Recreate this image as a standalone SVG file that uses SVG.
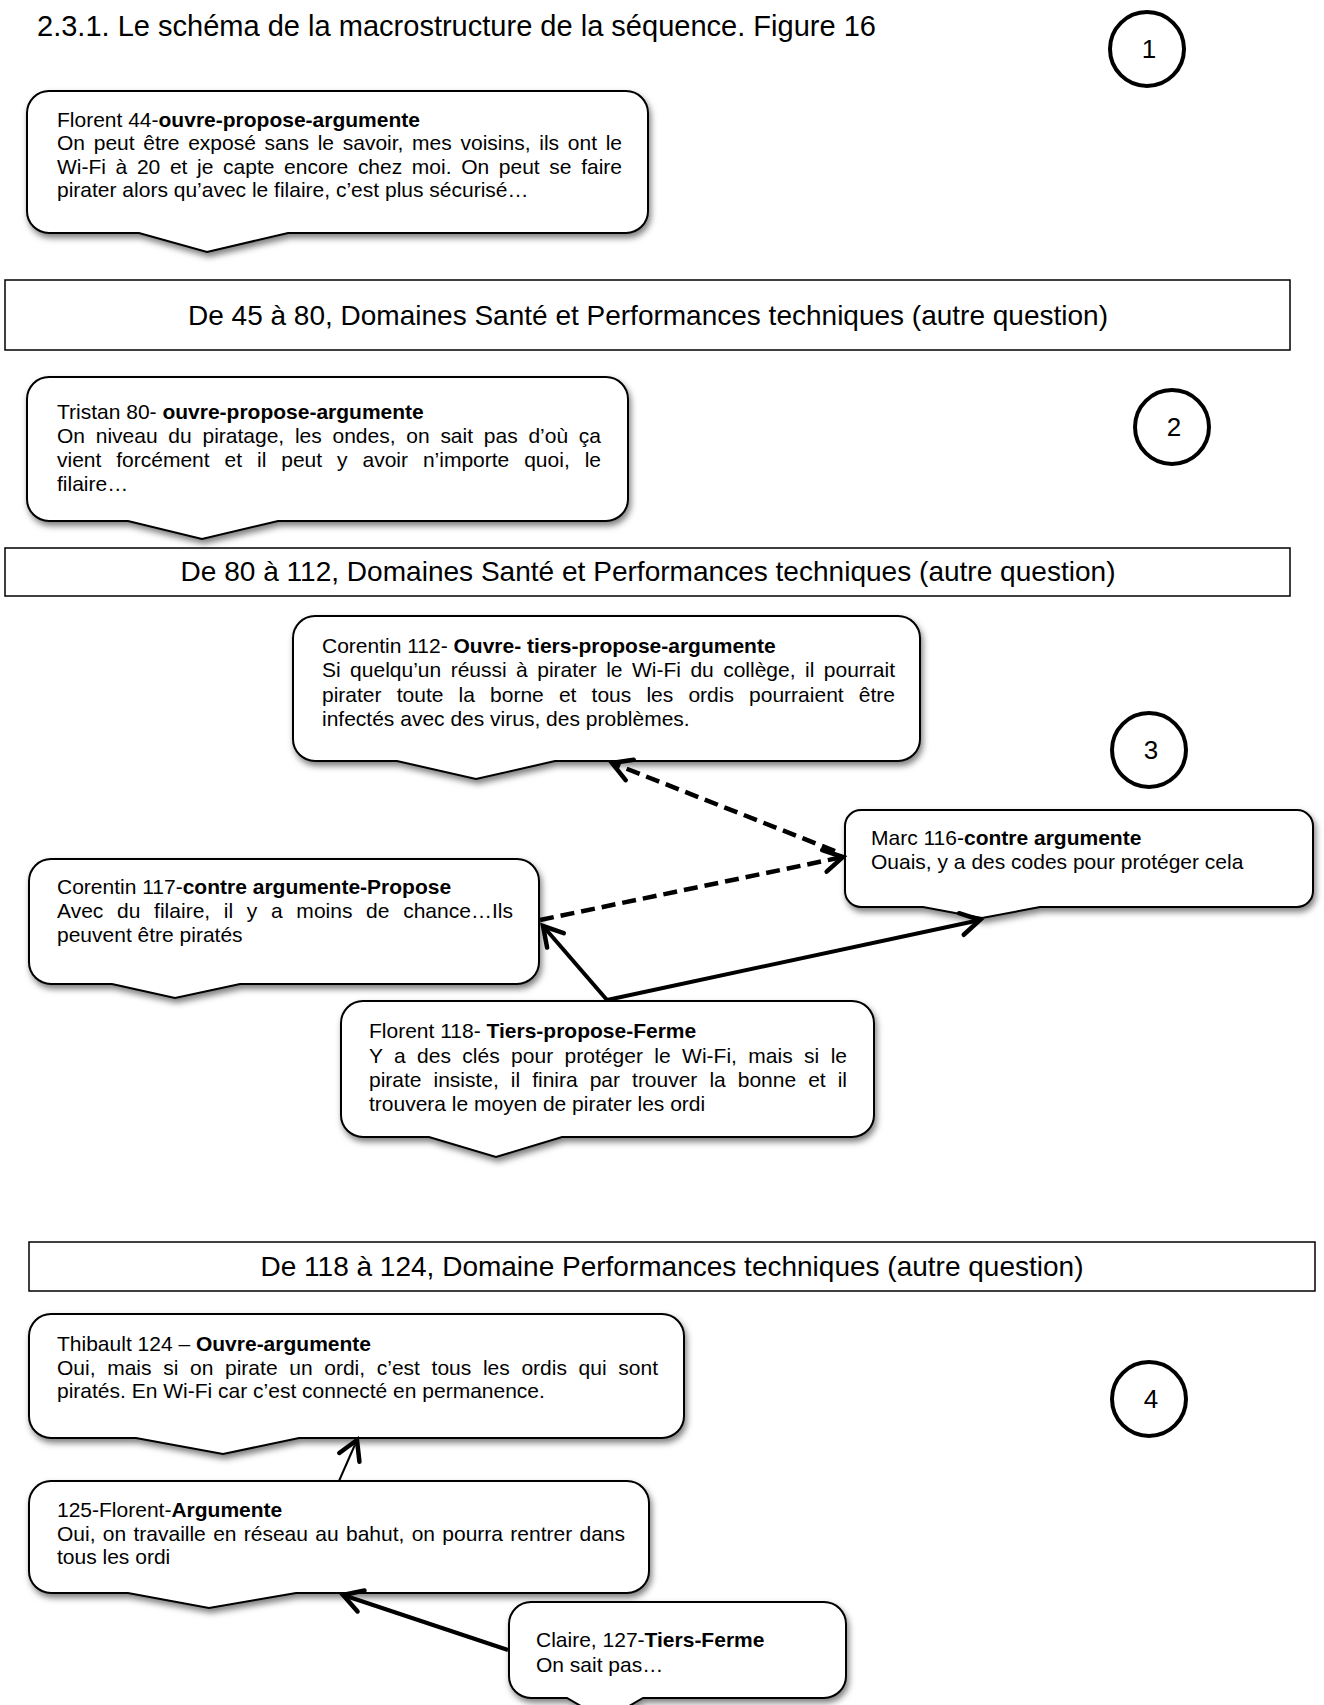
<svg xmlns="http://www.w3.org/2000/svg" width="1324" height="1705" viewBox="0 0 1324 1705">
<style>
.t{font-family:"Liberation Sans",Arial,sans-serif;font-size:21px;fill:#000}
.b{font-weight:bold}
.title{font-family:"Liberation Sans",Arial,sans-serif;font-size:29px;fill:#000}
.band{font-family:"Liberation Sans",Arial,sans-serif;font-size:28px;fill:#000;text-anchor:middle}
.num{font-family:"Liberation Sans",Arial,sans-serif;font-size:26px;fill:#000;text-anchor:middle}
.call{fill:#fff;stroke:#000;stroke-width:2;filter:url(#sh)}
.bandr{fill:#fff;stroke:#000;stroke-width:1.5}
.circ{fill:#fff;stroke:#000;stroke-width:4}
.solid{fill:none;stroke:#000;stroke-width:4;marker-end:url(#head)}
.dash{fill:none;stroke:#000;stroke-width:4.5;stroke-dasharray:14 7;marker-end:url(#head)}
.thin{fill:none;stroke:#000;stroke-width:2;marker-end:url(#head)}
</style>
<defs>
<filter id="sh" x="-5%" y="-10%" width="115%" height="135%">
<feDropShadow dx="2" dy="4" stdDeviation="3" flood-color="#000" flood-opacity="0.5"/>
</filter>
<marker id="head" markerUnits="userSpaceOnUse" markerWidth="30" markerHeight="30" viewBox="-22 -15 30 30" refX="0" refY="0" orient="auto" overflow="visible">
<path d="M-19,-11 L0,0 L-19,11" fill="none" stroke="#000" stroke-width="4.5" stroke-linejoin="miter" stroke-linecap="round"/>
</marker>
</defs>
<rect width="1324" height="1705" fill="#fff"/>
<text id="title" class="title" x="37" y="36" textLength="839" lengthAdjust="spacingAndGlyphs">2.3.1. Le schéma de la macrostructure de la séquence. Figure 16</text>

<g id="circle1"><circle class="circ" cx="1147" cy="49" r="37"/><text class="num" x="1149" y="58">1</text></g>
<g id="circle2"><circle class="circ" cx="1172" cy="427" r="37"/><text class="num" x="1174" y="436">2</text></g>
<g id="circle3"><circle class="circ" cx="1149" cy="750" r="37"/><text class="num" x="1151" y="759">3</text></g>
<g id="circle4"><circle class="circ" cx="1149" cy="1399" r="37"/><text class="num" x="1151" y="1408">4</text></g>

<g id="band1"><rect class="bandr" x="5" y="280" width="1285" height="70"/><text class="band" x="648" y="325" textLength="920" lengthAdjust="spacingAndGlyphs">De 45 à 80, Domaines Santé et Performances techniques (autre question)</text></g>
<g id="band2"><rect class="bandr" x="5" y="548" width="1285" height="48"/><text class="band" x="648" y="581" textLength="935" lengthAdjust="spacingAndGlyphs">De 80 à 112, Domaines Santé et Performances techniques (autre question)</text></g>
<g id="band3"><rect class="bandr" x="29" y="1242" width="1286" height="49"/><text class="band" x="672" y="1276" textLength="823" lengthAdjust="spacingAndGlyphs">De 118 à 124, Domaine Performances techniques (autre question)</text></g>

<g id="florent44">
<path class="call" d="M49,91 H626 A22 22 0 0 1 648,113 V211 A22 22 0 0 1 626,233 H288 L207,252 L139,233 H49 A22 22 0 0 1 27,211 V113 A22 22 0 0 1 49,91 Z"/>
<text class="t" x="57" y="127">Florent 44-<tspan class="b">ouvre-propose-argumente</tspan></text>
<text class="t" x="57" y="150" word-spacing="2.8" textLength="565">On peut être exposé sans le savoir, mes voisins, ils ont le</text>
<text class="t" x="57" y="174" word-spacing="3.8" textLength="565">Wi-Fi à 20 et je capte encore chez moi. On peut se faire</text>
<text class="t" x="57" y="197">pirater alors qu’avec le filaire, c’est plus sécurisé…</text>
</g>

<g id="tristan80">
<path class="call" d="M49,377 H606 A22 22 0 0 1 628,399 V499 A22 22 0 0 1 606,521 H278 L202,539 L128,521 H49 A22 22 0 0 1 27,499 V399 A22 22 0 0 1 49,377 Z"/>
<text class="t" x="57" y="419">Tristan 80- <tspan class="b">ouvre-propose-argumente</tspan></text>
<text class="t" x="57" y="443" word-spacing="4.9" textLength="544">On niveau du piratage, les ondes, on sait pas d’où ça</text>
<text class="t" x="57" y="467" word-spacing="9.1" textLength="544">vient forcément et il peut y avoir n’importe quoi, le</text>
<text class="t" x="57" y="491">filaire…</text>
</g>

<g id="corentin112">
<path class="call" d="M315,616 H898 A22 22 0 0 1 920,638 V739 A22 22 0 0 1 898,761 H555 L476,779 L397,761 H315 A22 22 0 0 1 293,739 V638 A22 22 0 0 1 315,616 Z"/>
<text class="t" x="322" y="653">Corentin 112- <tspan class="b">Ouvre- tiers-propose-argumente</tspan></text>
<text class="t" x="322" y="677" word-spacing="3.6" textLength="573">Si quelqu’un réussi à pirater le Wi-Fi du collège, il pourrait</text>
<text class="t" x="322" y="702" word-spacing="9.3" textLength="573">pirater toute la borne et tous les ordis pourraient être</text>
<text class="t" x="322" y="726">infectés avec des virus, des problèmes.</text>
</g>

<g id="marc116">
<path class="call" d="M861,810 H1297 A16 16 0 0 1 1313,826 V891 A16 16 0 0 1 1297,907 H1040 L982,918 L923,907 H861 A16 16 0 0 1 845,891 V826 A16 16 0 0 1 861,810 Z"/>
<text class="t" x="871" y="845">Marc 116-<tspan class="b">contre argumente</tspan></text>
<text class="t" x="871" y="869">Ouais, y a des codes pour protéger cela</text>
</g>

<g id="corentin117">
<path class="call" d="M51,859 H517 A22 22 0 0 1 539,881 V962 A22 22 0 0 1 517,984 H240 L175,998 L112,984 H51 A22 22 0 0 1 29,962 V881 A22 22 0 0 1 51,859 Z"/>
<text class="t" x="57" y="894">Corentin 117-<tspan class="b">contre argumente-Propose</tspan></text>
<text class="t" x="57" y="918" word-spacing="7.8" textLength="456">Avec du filaire, il y a moins de chance…Ils</text>
<text class="t" x="57" y="942">peuvent être piratés</text>
</g>

<g id="florent118">
<path class="call" d="M363,1001 H852 A22 22 0 0 1 874,1023 V1115 A22 22 0 0 1 852,1137 H562 L496,1157 L429,1137 H363 A22 22 0 0 1 341,1115 V1023 A22 22 0 0 1 363,1001 Z"/>
<text class="t" x="369" y="1038">Florent 118- <tspan class="b">Tiers-propose-Ferme</tspan></text>
<text class="t" x="369" y="1063" word-spacing="5.5" textLength="478">Y a des clés pour protéger le Wi-Fi, mais si le</text>
<text class="t" x="369" y="1087" word-spacing="6.2" textLength="478">pirate insiste, il finira par trouver la bonne et il</text>
<text class="t" x="369" y="1111">trouvera le moyen de pirater les ordi</text>
</g>

<g id="thibault124">
<path class="call" d="M51,1314 H662 A22 22 0 0 1 684,1336 V1416 A22 22 0 0 1 662,1438 H299 L223,1454 L136,1438 H51 A22 22 0 0 1 29,1416 V1336 A22 22 0 0 1 51,1314 Z"/>
<text class="t" x="57" y="1351">Thibault 124 – <tspan class="b">Ouvre-argumente</tspan></text>
<text class="t" x="57" y="1375" word-spacing="5.8" textLength="601">Oui, mais si on pirate un ordi, c’est tous les ordis qui sont</text>
<text class="t" x="57" y="1398">piratés. En Wi-Fi car c’est connecté en permanence.</text>
</g>

<g id="florent125">
<path class="call" d="M51,1481 H627 A22 22 0 0 1 649,1503 V1571 A22 22 0 0 1 627,1593 H296 L209,1608 L128,1593 H51 A22 22 0 0 1 29,1571 V1503 A22 22 0 0 1 51,1481 Z"/>
<text class="t" x="57" y="1517">125-Florent-<tspan class="b">Argumente</tspan></text>
<text class="t" x="57" y="1541" word-spacing="1.5" textLength="568">Oui, on travaille en réseau au bahut, on pourra rentrer dans</text>
<text class="t" x="57" y="1564">tous les ordi</text>
</g>

<g id="claire127">
<path class="call" d="M531,1602 H824 A22 22 0 0 1 846,1624 V1676 A22 22 0 0 1 824,1698 H643 L605,1720 L567,1698 H531 A22 22 0 0 1 509,1676 V1624 A22 22 0 0 1 531,1602 Z"/>
<text class="t" x="536" y="1647">Claire, 127-<tspan class="b">Tiers-Ferme</tspan></text>
<text class="t" x="536" y="1672">On sait pas…</text>
</g>

<g id="connectors">
<path class="dash" d="M835,851 L612,763"/>
<path class="dash" d="M540,920 L843,857"/>
<path class="solid" d="M607,1000 L543,926"/>
<path class="solid" d="M607,1000 L980,920"/>
<path class="thin" d="M339,1481 L357,1440"/>
<path class="solid" d="M508,1650 L343,1595"/>
</g>
</svg>
